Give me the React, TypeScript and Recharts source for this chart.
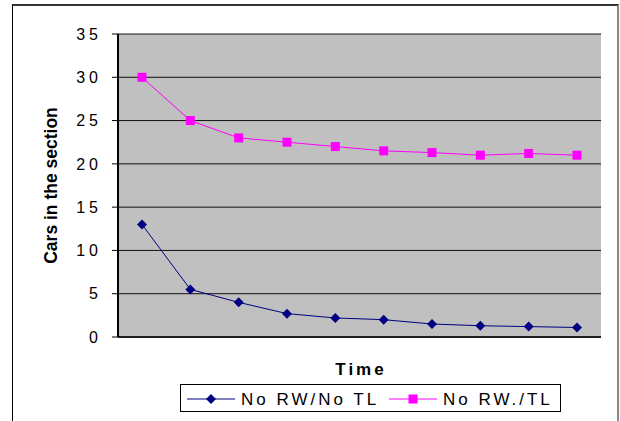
import { LineChart, Line, XAxis, YAxis, CartesianGrid } from "recharts";

const times = ["1", "2", "3", "4", "5", "6", "7", "8", "9", "10"];
const noRwNoTl = [13, 5.5, 4, 2.7, 2.2, 2, 1.5, 1.3, 1.2, 1.1];
const noRwTl = [30, 25, 23, 22.5, 22, 21.5, 21.3, 21, 21.2, 21];
const yTicks = [0, 5, 10, 15, 20, 25, 30, 35];

const FONT = "Arial, 'Liberation Sans', sans-serif";
const NAVY = "#000080";
const PINK = "#FF00FF";

const data = times.map((t, i) => ({ t, a: noRwNoTl[i], b: noRwTl[i] }));

function Diamond({ cx, cy, fill }: any) {
  if (cx == null || cy == null) return null;
  const r = 5;
  return <polygon points={`${cx},${cy - r} ${cx + r},${cy} ${cx},${cy + r} ${cx - r},${cy}`} fill={fill} />;
}

function Square({ cx, cy, fill }: any) {
  if (cx == null || cy == null) return null;
  return <rect x={cx - 4.5} y={cy - 4.5} width={9} height={9} fill={fill} />;
}

const series = [
  { key: "a", name: "No RW/No TL", color: NAVY, Marker: Diamond },
  { key: "b", name: "No RW./TL", color: PINK, Marker: Square },
];

export default function App() {
  return (
    <div style={{ position: "absolute", left: 0, top: 0, width: 620, height: 421, overflow: "hidden", background: "#fff" }}>
      {/* outer frame */}
      <div style={{ position: "absolute", left: 12, top: 4, width: 604, height: 440, borderLeft: "1px solid #000", borderTop: "2px solid #333", borderRight: "2px solid #888" }} />

      <LineChart width={620} height={421} data={data} margin={{ top: 34, right: 19, bottom: 0, left: 0 }} style={{ position: "absolute", left: 0, top: 0 }}>
        <CartesianGrid vertical={false} stroke="#111" fill="#C0C0C0" fillOpacity={1} />
        <XAxis
          dataKey="t"
          height={84}
          tick={false}
          tickLine={false}
          axisLine={{ stroke: "#000", strokeWidth: 1.5 }}
          padding={{ left: 24, right: 24 }}
          label={({ viewBox }: any) => (
            <text x={viewBox.x + viewBox.width / 2 + 1.5} y={375} textAnchor="middle" fontFamily={FONT} fontSize={17} fontWeight="bold" letterSpacing={3} fill="#000">
              Time
            </text>
          )}
        />
        <YAxis
          domain={[0, 35]}
          ticks={yTicks}
          interval={0}
          width={118}
          tickSize={6}
          tickMargin={10}
          tickLine={{ stroke: "#000" }}
          axisLine={{ stroke: "#000", strokeWidth: 2 }}
          tick={{ fill: "#000", fontSize: 16, fontFamily: FONT, letterSpacing: 4 }}
          label={({ viewBox }: any) => (
            <text
              x={51}
              y={viewBox.y + viewBox.height / 2}
              transform={`rotate(-90, 51, ${viewBox.y + viewBox.height / 2})`}
              textAnchor="middle"
              dominantBaseline="central"
              fontFamily={FONT}
              fontSize={17.5}
              fontWeight="bold"
              fill="#000"
            >
              Cars in the section
            </text>
          )}
        />
        <YAxis yAxisId="r" orientation="right" width={0} domain={[0, 35]} tick={false} tickLine={false} axisLine={{ stroke: "#000", strokeWidth: 1.5 }} />
        {series.map((s) => (
          <Line
            key={s.key}
            dataKey={s.key}
            name={s.name}
            type="linear"
            stroke={s.color}
            strokeWidth={1}
            dot={(p: any) => <s.Marker key={p.index} cx={p.cx} cy={p.cy} fill={s.color} />}
            activeDot={false}
            isAnimationActive={false}
          />
        ))}
      </LineChart>

      {/* legend */}
      <div style={{ position: "absolute", left: 180, top: 384, width: 381, height: 28, boxSizing: "border-box", border: "1px solid #000", background: "#fff" }}>
        <svg width={379} height={26} style={{ display: "block" }}>
          {series.map((s, i) => {
            const x0 = i === 0 ? 6 : 208;
            return (
              <g key={s.key}>
                <line x1={x0} x2={x0 + 48} y1={14} y2={14} stroke={s.color} strokeWidth={1} />
                <s.Marker cx={x0 + 24} cy={14} fill={s.color} />
                <text x={x0 + 54} y={20} fontFamily={FONT} fontSize={17} letterSpacing={3} fill="#000">
                  {s.name}
                </text>
              </g>
            );
          })}
        </svg>
      </div>
    </div>
  );
}
